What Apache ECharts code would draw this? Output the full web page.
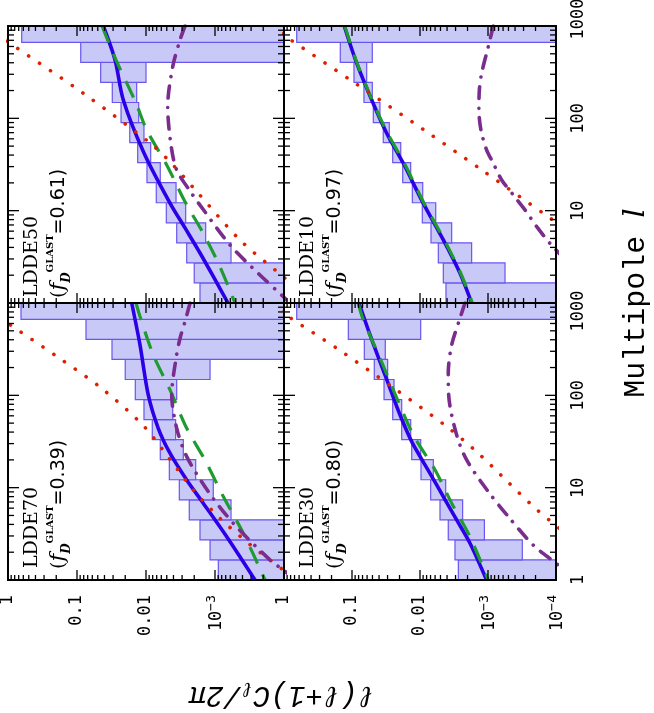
<!DOCTYPE html>
<html><head><meta charset="utf-8">
<script src="https://cdn.jsdelivr.net/npm/echarts/dist/echarts.min.js"></script>
<style>html,body{margin:0;padding:0;background:#fff}#c{width:654px;height:713px}</style>
</head><body><div id="c"></div>
<script>
// ---------------- data ----------------
// multipole bin edges (bins of width 0.5 in ln l)
const binEdges = [1, 1.649, 2.718, 4.482, 7.389, 12.18, 20.09, 33.12, 54.60, 90.02, 148.4, 244.7, 403.4, 665.1, 1096.6];
const panelNames = ['LDDE50', 'LDDE10', 'LDDE70', 'LDDE30'];
const panelFD = ['0.61', '0.97', '0.39', '0.80'];
const valueTickLabels = ['{b|10}{s|\u22124}', '{b|10}{s|\u22123}', '0.01', '0.1', '1']; // 1e-4 ... 1
const multipoleTickLabels = ['1', '10', '100', '1000'];

// error boxes: upper / lower value of l(l+1)C_l/2pi per bin (1e-5 = below the axis)
const ldde50_hi = [1.65e-3, 2.0e-3, 2.57e-3, 3.59e-3, 5.08e-3, 7.10e-3, 9.68e-3, 0.0132, 0.0172, 0.0230, 0.0308, 0.0454, 0.0883, 0.633];
const ldde50_lo = [1e-5, 1e-5, 5.86e-4, 1.365e-3, 2.66e-3, 3.67e-3, 6.21e-3, 8.55e-3, 0.0107, 0.01276, 0.01365, 0.0100, 1e-5, 1e-5];
const ldde10_hi = [4.15e-3, 4.54e-3, 5.38e-3, 6.89e-3, 9.25e-3, 0.01297, 0.01796, 0.0252, 0.0347, 0.0486, 0.0667, 0.0935, 0.1486, 0.650];
const ldde10_lo = [1e-5, 5.62e-4, 1.74e-3, 3.42e-3, 5.87e-3, 9.12e-3, 0.01371, 0.0192, 0.0283, 0.0388, 0.0503, 0.0608, 0.0503, 1e-5];
const ldde70_hi = [8.95e-4, 1.18e-3, 1.65e-3, 2.36e-3, 3.29e-3, 4.59e-3, 6.21e-3, 8.11e-3, 0.0107, 0.01429, 0.0200, 0.0311, 0.0741, 0.648];
const ldde70_lo = [1e-5, 1e-5, 1e-5, 5.86e-4, 1.06e-3, 1.905e-3, 2.88e-3, 3.72e-3, 4.10e-3, 3.59e-3, 1.18e-3, 1e-5, 1e-5, 1e-5];
const ldde30_hi = [2.73e-3, 3.06e-3, 3.84e-3, 5.08e-3, 6.97e-3, 9.67e-3, 0.01324, 0.01858, 0.0252, 0.0338, 0.0470, 0.0659, 0.1133, 0.650];
const ldde30_lo = [1e-5, 3.13e-4, 1.13e-3, 2.36e-3, 4.19e-3, 6.37e-3, 9.77e-3, 0.01371, 0.01858, 0.0241, 0.0299, 0.0324, 9.77e-3, 1e-5];

// model curves: multipole l and value
const ldde50_blue_l = [1000, 429, 158, 42.2, 12.1, 6.5, 3.48, 1.87, 1];
const ldde50_blue_v = [0.0416, 0.0281, 0.02133, 0.0107, 4.49e-3, 2.72e-3, 1.65e-3, 1.03e-3, 6.48e-4];
const ldde50_green_l = [1000, 429, 146, 74.9, 31.3, 12.5, 5.69, 2.47, 1];
const ldde50_green_v = [0.0434, 0.0272, 0.01396, 9.77e-3, 5.01e-3, 2.72e-3, 1.48e-3, 8.47e-4, 5.13e-4];
const ldde50_red_l = [1000, 598, 187, 56.0, 35.4, 16.1, 4.81, 1.93, 1];
const ldde50_red_v = [2.1, 0.792, 0.0811, 9.27e-3, 4.75e-3, 1.84e-3, 4.34e-4, 1.03e-4, 3.7e-5];
const ldde50_purple_l = [1000, 707, 363, 134, 51.5, 27.6, 15.4, 11.5, 4.25, 2.01, 1.17, 1];
const ldde50_purple_v = [2.72e-3, 3.21e-3, 4.10e-3, 4.85e-3, 4.34e-3, 3.59e-3, 2.18e-3, 1.65e-3, 6.06e-4, 2.23e-4, 1.02e-4, 8.2e-5];

const ldde10_blue_l = [1000, 395, 158, 69.0, 32.6, 12.0, 4.82, 2.10, 1];
const ldde10_blue_v = [0.130, 0.0853, 0.0513, 0.0309, 0.0176, 8.94e-3, 4.54e-3, 2.58e-3, 1.74e-3];
const ldde10_green_l = [1000, 395, 158, 69.0, 32.6, 12.0, 4.82, 2.10, 1];
const ldde10_green_v = [0.128, 0.084, 0.0505, 0.0300, 0.0170, 8.7e-3, 4.4e-3, 2.52e-3, 1.70e-3];
const ldde10_red_l = [1000, 725, 234, 74.9, 28.8, 8.83, 4.82];
const ldde10_red_v = [1.56, 0.836, 0.0853, 8.73e-3, 1.34e-3, 1.37e-4, 4.29e-5];
const ldde10_purple_l = [1000, 598, 308, 203, 123, 74.9, 45.5, 32.6, 21.5, 14.8, 10.2, 6.71, 4.43, 2.28];
const ldde10_purple_v = [8.36e-4, 9.9e-4, 1.24e-3, 1.34e-3, 1.36e-3, 1.27e-3, 1.05e-3, 8.36e-4, 6.29e-4, 4.25e-4, 2.86e-4, 1.92e-4, 1.23e-4, 5.25e-5];

const ldde70_blue_l = [1000, 352, 101, 44.0, 23.6, 12.1, 6.78, 2.94, 1];
const ldde70_blue_v = [0.0161, 0.01222, 9.27e-3, 6.64e-3, 4.49e-3, 2.57e-3, 1.48e-3, 6.76e-4, 2.63e-4];
const ldde70_green_l = [1000, 713, 274, 114.5, 44.0, 19.95, 8.0, 3.21, 1];
const ldde70_green_v = [0.01396, 0.01222, 7.84e-3, 4.49e-3, 2.57e-3, 1.40e-3, 7.58e-4, 3.89e-4, 1.88e-4];
const ldde70_red_l = [1000, 565, 262, 119, 47.8, 22.6, 9.44, 4.66, 2.39, 1.28, 1];
const ldde70_red_v = [2.75, 0.884, 0.193, 0.0439, 0.01117, 5.01e-3, 2.06e-3, 8.47e-4, 3.04e-4, 1.02e-4, 6.7e-5];
const ldde70_purple_l = [1000, 629, 415, 252, 101, 44.0, 21.7, 9.05, 4.11, 1.65, 1.28, 1];
const ldde70_purple_v = [2.30e-3, 2.72e-3, 3.21e-3, 3.67e-3, 4.24e-3, 3.59e-3, 2.57e-3, 1.25e-3, 5.43e-4, 1.60e-4, 1.02e-4, 6.7e-5];

const ldde30_blue_l = [1000, 451, 232, 119, 61.4, 31.5, 14.3, 8.0, 4.47, 2.50, 1];
const ldde30_blue_v = [0.0789, 0.0543, 0.0388, 0.0276, 0.01968, 0.01324, 7.13e-3, 4.54e-3, 2.89e-3, 1.84e-3, 1.05e-3];
const ldde30_green_l = [1000, 656, 254, 93.7, 37.2, 15.6, 6.78, 2.94, 1];
const ldde30_green_v = [0.0812, 0.0682, 0.0388, 0.0220, 0.01255, 6.02e-3, 3.42e-3, 1.84e-3, 9.9e-4];
const ldde30_red_l = [1000, 695, 324, 123, 45.1, 23.6, 11.4, 5.73, 2.39];
const ldde30_red_v = [1.6, 0.816, 0.168, 0.0255, 3.92e-3, 1.39e-3, 5.02e-4, 1.88e-4, 4.44e-5];
const ldde30_purple_l = [1000, 684, 352, 173, 93.0, 37.2, 19.95, 9.05, 4.85, 2.39, 1.45, 1];
const ldde30_purple_v = [2.18e-3, 2.58e-3, 3.42e-3, 3.84e-3, 3.75e-3, 2.89e-3, 2.06e-3, 9.9e-4, 5.02e-4, 2.16e-4, 9.25e-5, 5.25e-5];

// ---------------- layout ----------------
const grids = [
  {left: 8, top: 26, width: 276, height: 277},    // LDDE50
  {left: 284, top: 26, width: 272, height: 277},  // LDDE10
  {left: 8, top: 303, width: 276, height: 277},   // LDDE70
  {left: 284, top: 303, width: 272, height: 277}  // LDDE30
];
const panels = [
  {hi: ldde50_hi, lo: ldde50_lo, blue: [ldde50_blue_l, ldde50_blue_v], green: [ldde50_green_l, ldde50_green_v], red: [ldde50_red_l, ldde50_red_v], purple: [ldde50_purple_l, ldde50_purple_v]},
  {hi: ldde10_hi, lo: ldde10_lo, blue: [ldde10_blue_l, ldde10_blue_v], green: [ldde10_green_l, ldde10_green_v], red: [ldde10_red_l, ldde10_red_v], purple: [ldde10_purple_l, ldde10_purple_v]},
  {hi: ldde70_hi, lo: ldde70_lo, blue: [ldde70_blue_l, ldde70_blue_v], green: [ldde70_green_l, ldde70_green_v], red: [ldde70_red_l, ldde70_red_v], purple: [ldde70_purple_l, ldde70_purple_v]},
  {hi: ldde30_hi, lo: ldde30_lo, blue: [ldde30_blue_l, ldde30_blue_v], green: [ldde30_green_l, ldde30_green_v], red: [ldde30_red_l, ldde30_red_v], purple: [ldde30_purple_l, ldde30_purple_v]}
];

// tick positions (decades and 2..9 sub-ticks)
const vTicks = [], lTicks = [];
for (let e = -4; e <= 0; e++) {
  vTicks.push({v: Math.pow(10, e), major: true});
  if (e < 0) for (let m = 2; m <= 9; m++) vTicks.push({v: m * Math.pow(10, e), major: false});
}
for (let e = 0; e <= 3; e++) {
  lTicks.push({v: Math.pow(10, e), major: true});
  if (e < 3) for (let m = 2; m <= 9; m++) lTicks.push({v: m * Math.pow(10, e), major: false});
}

function renderFrame(params, api) {
  const tl = api.coord([1, 1000]);
  const br = api.coord([1e-4, 1]);
  const x0 = tl[0], y0 = tl[1], x1 = br[0], y1 = br[1];
  const st = {stroke: '#000', lineWidth: 1.3};
  const ch = [];
  vTicks.forEach(t => {
    const px = api.coord([t.v, 1])[0];
    const len = t.major ? 10 : 5;
    ch.push({type: 'line', shape: {x1: px, y1: y1, x2: px, y2: y1 - len}, style: st});
    ch.push({type: 'line', shape: {x1: px, y1: y0, x2: px, y2: y0 + len}, style: st});
  });
  lTicks.forEach(t => {
    const py = api.coord([1, t.v])[1];
    const len = t.major ? 11 : 6;
    ch.push({type: 'line', shape: {x1: x0, y1: py, x2: x0 + len, y2: py}, style: st});
    ch.push({type: 'line', shape: {x1: x1, y1: py, x2: x1 - len, y2: py}, style: st});
  });
  ch.push({type: 'rect', shape: {x: x0, y: y0, width: x1 - x0, height: y1 - y0}, style: {fill: 'none', stroke: '#000', lineWidth: 2}});
  return {type: 'group', children: ch};
}

function renderBox(params, api) {
  const hi = api.value(0), lo = api.value(1), l0 = api.value(2), l1 = api.value(3);
  const p1 = api.coord([hi, l1]);
  const p2 = api.coord([lo, l0]);
  const cs = params.coordSys;
  const r = echarts.graphic.clipRectByRect(
    {x: p1[0], y: p1[1], width: p2[0] - p1[0], height: p2[1] - p1[1]},
    {x: cs.x, y: cs.y, width: cs.width, height: cs.height});
  return r && {type: 'rect', shape: r, style: {fill: '#c9c9f8', stroke: '#6a55ee', lineWidth: 1.2}};
}

const toXY = (pair) => pair[0].map((l, i) => [pair[1][i], l]);

const series = [];
panels.forEach((p, i) => {
  series.push({
    type: 'custom', xAxisIndex: i, yAxisIndex: i, z: 2, renderItem: renderBox,
    encode: {x: [0, 1], y: [2, 3]},
    data: p.hi.map((h, k) => [h, p.lo[k], binEdges[k], binEdges[k + 1]])
  });
  const lineBase = {type: 'line', xAxisIndex: i, yAxisIndex: i, showSymbol: false, symbol: 'none', smooth: 0.3, clip: true, silent: true};
  series.push(Object.assign({}, lineBase, {z: 3, data: toXY(p.blue), lineStyle: {color: '#2b00e8', width: 3.6}}));
  series.push(Object.assign({}, lineBase, {z: 4, data: toXY(p.green), lineStyle: {color: '#1f9b30', width: 3.2, type: [18, 12]}}));
  series.push(Object.assign({}, lineBase, {z: 5, data: toXY(p.red), lineStyle: {color: '#dd2000', width: 3.6, type: [0.1, 13], cap: 'round'}}));
  series.push(Object.assign({}, lineBase, {z: 6, data: toXY(p.purple), lineStyle: {color: '#7b2d8e', width: 3.6, type: [12, 9.5, 0.1, 9.5], cap: 'round'}}));
  series.push({type: 'custom', xAxisIndex: i, yAxisIndex: i, z: 10, renderItem: renderFrame, encode: {x: 0, y: 1}, data: [[1, 1]], silent: true});
});

const labelFont = 'DejaVu Sans Mono';
const xAxes = grids.map((g, i) => ({
  gridIndex: i, type: 'log', logBase: 10, min: 1e-4, max: 1, inverse: true, position: 'bottom',
  axisLine: {show: false}, axisTick: {show: false}, splitLine: {show: false},
  axisLabel: i >= 2 ? {
    show: true, rotate: 90, margin: 15, color: '#000', fontFamily: labelFont, fontSize: 17,
    showMinLabel: true, showMaxLabel: true, hideOverlap: false,
    formatter: (v) => { const e = Math.round(Math.log10(v)); if (i === 2 && e === -4) return ''; return valueTickLabels[e + 4]; },
    rich: {
      b: {fontFamily: labelFont, fontSize: 17, color: '#000', lineHeight: 20, verticalAlign: 'bottom'},
      s: {fontFamily: labelFont, fontSize: 13, color: '#000', lineHeight: 12, verticalAlign: 'top'}
    }
  } : {show: false}
}));
const yAxes = grids.map((g, i) => ({
  gridIndex: i, type: 'log', logBase: 10, min: 1, max: 1000, position: i % 2 === 1 ? 'right' : 'left',
  axisLine: {show: false}, axisTick: {show: false}, splitLine: {show: false},
  axisLabel: i % 2 === 1 ? {
    show: true, rotate: 90, margin: 14, color: '#000', fontFamily: labelFont, fontSize: 17,
    showMinLabel: true, showMaxLabel: true, hideOverlap: false,
    formatter: (v) => {
      const e = Math.round(Math.log10(v));
      if (i === 1 && e === 0) return '';
      if (e === 3) return (i === 1 ? '{up|' : '{dn|') + multipoleTickLabels[e] + '}';
      return multipoleTickLabels[e];
    },
    rich: {
      up: {fontFamily: labelFont, fontSize: 17, color: '#000', padding: [0, 0, 0, 14]},
      dn: {fontFamily: labelFont, fontSize: 17, color: '#000', padding: [0, 16, 0, 0]}
    }
  } : {show: false}
}));

const graphics = [];
grids.forEach((g, i) => {
  const bottom = g.top + g.height;
  const gap = i < 2 ? 6 : 12;
  graphics.push({type: 'text', x: g.left + 15, y: bottom - gap, rotation: Math.PI / 2, z: 30,
    style: {text: panelNames[i], fontFamily: 'DejaVu Serif', fontSize: 19, fill: '#000', align: 'left', verticalAlign: 'top'}});
  graphics.push({type: 'text', x: g.left + 37, y: bottom - gap + 1, rotation: Math.PI / 2, z: 30,
    style: {text: '{p|(}{f|f}{d|D}{g|GLAST}{n|=' + panelFD[i] + ')}', align: 'left', verticalAlign: 'top',
      rich: {
        p: {fontFamily: 'DejaVu Serif', fontSize: 19, lineHeight: 28, verticalAlign: 'middle', fill: '#000'},
        f: {fontFamily: 'DejaVu Serif', fontStyle: 'italic', fontSize: 21, lineHeight: 28, verticalAlign: 'middle', fill: '#000'},
        d: {fontFamily: 'DejaVu Serif', fontStyle: 'italic', fontWeight: 'bold', fontSize: 12, lineHeight: 12, verticalAlign: 'bottom', fill: '#000'},
        g: {fontFamily: 'DejaVu Serif', fontWeight: 'bold', fontSize: 10, lineHeight: 10, verticalAlign: 'top', fill: '#000'},
        n: {fontFamily: 'DejaVu Sans', fontSize: 19, lineHeight: 28, verticalAlign: 'middle', fill: '#000'}
      }}});
});
graphics.push({type: 'text', x: 636, y: 303, rotation: Math.PI / 2, z: 30,
  style: {text: '{m|Multipole }{l|l}', align: 'center', verticalAlign: 'middle',
    rich: {m: {fontFamily: 'Liberation Mono', fontSize: 30, fill: '#000'}, l: {fontFamily: 'DejaVu Serif', fontStyle: 'italic', fontSize: 30, fill: '#000'}}}});
graphics.push({type: 'text', x: 282, y: 695, rotation: Math.PI, z: 30,
  style: {text: '{a|\u2113(\u2113+1)C}{s|\u2113}{a|/2\u03c0}', align: 'center', verticalAlign: 'middle',
    rich: {a: {fontFamily: 'Liberation Mono', fontStyle: 'italic', fontSize: 29, lineHeight: 34, verticalAlign: 'middle', fill: '#000'},
           s: {fontFamily: 'Liberation Mono', fontStyle: 'italic', fontSize: 20, lineHeight: 20, verticalAlign: 'bottom', fill: '#000'}}}});

const chart = echarts.init(document.getElementById('c'), null, {renderer: 'canvas'});
chart.setOption({
  animation: false,
  backgroundColor: '#fff',
  grid: grids.map(g => Object.assign({containLabel: false, outerBoundsMode: 'none', show: false}, g)),
  xAxis: xAxes,
  yAxis: yAxes,
  series: series,
  graphic: {elements: graphics}
});
</script></body></html>
